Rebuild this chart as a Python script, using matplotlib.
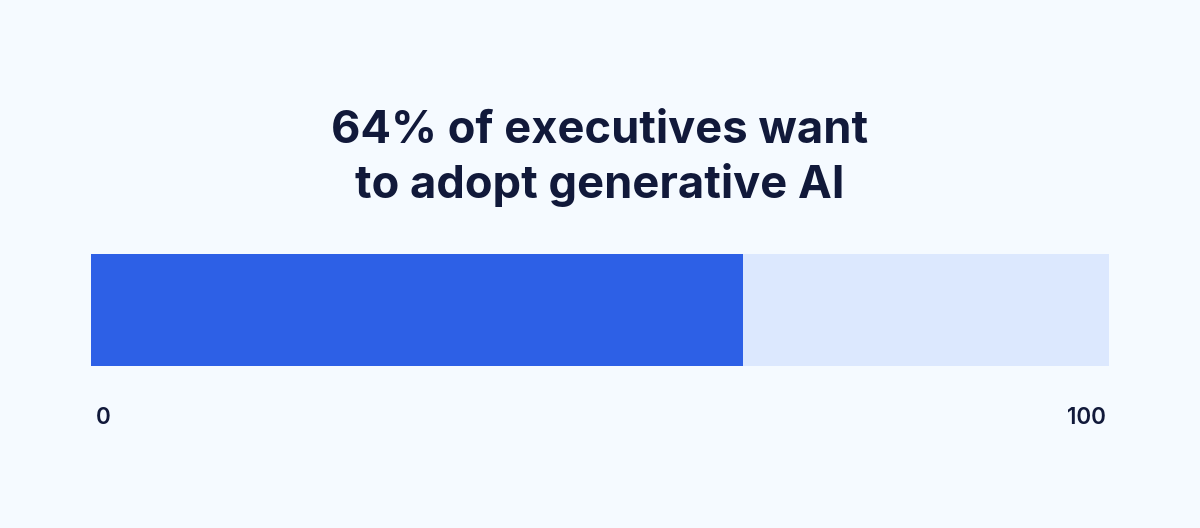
import matplotlib
matplotlib.use('Agg')
import matplotlib.pyplot as plt

# Data
share = [64]
total = [100]
tick_values = [0, 100]
title_lines = ['64% of executives want', 'to adopt generative AI']

bg = '#F5FAFF'
ink = '#11193A'

fig = plt.figure(figsize=(12, 5.28), dpi=100, facecolor=bg)
ax = fig.add_axes([91 / 1200, 1 - 366 / 528, (1109 - 91) / 1200, (366 - 254) / 528])
ax.set_facecolor(bg)
ax.barh([0], total, height=1, color='#DCE8FE', align='center')
ax.barh([0], share, height=1, color='#2D60E6', align='center')
ax.set_xlim(0, 100)
ax.set_ylim(-0.5, 0.5)
ax.axis('off')

# title is two separate lines so the spacing can be set exactly
fig.text(0.5, 1 - 143 / 528, title_lines[0], ha='center', va='baseline', fontsize=32.6,
         fontweight='bold', family='Inter', color=ink)
fig.text(0.5, 1 - 198 / 528, title_lines[1], ha='center', va='baseline', fontsize=32.6,
         fontweight='bold', family='Inter', color=ink)

fig.text(96 / 1200, 1 - 424.5 / 528, str(tick_values[0]), ha='left', va='baseline',
         fontsize=16.2, fontweight='semibold', family='Inter', color=ink)
fig.text(1106 / 1200, 1 - 424.5 / 528, str(tick_values[1]), ha='right', va='baseline',
         fontsize=16.2, fontweight='semibold', family='Inter', color=ink)

fig.savefig('out.png', dpi=100, facecolor=bg)
